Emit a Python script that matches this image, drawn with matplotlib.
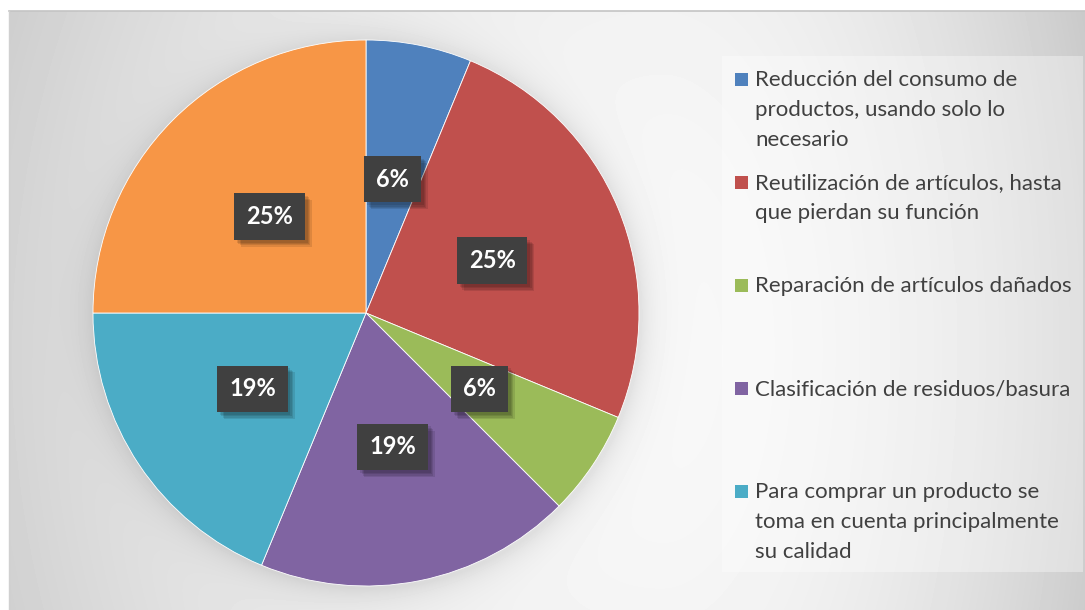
import numpy as np
import matplotlib
matplotlib.use("Agg")
import matplotlib.pyplot as plt
from matplotlib.patches import Rectangle
import matplotlib.patheffects as pe

# ---- data ----
categories = [
    "Reducción del consumo de\nproductos, usando solo lo\nnecesario",
    "Reutilización de artículos, hasta\nque pierdan su función",
    "Reparación de artículos dañados",
    "Clasificación de residuos/basura",
    "Para comprar un producto se\ntoma en cuenta principalmente\nsu calidad",
    "Otro",  # sixth slice, its legend entry is cut off in the reference
]
values = [6.25, 25, 6.25, 18.75, 18.75, 25]
colors = ["#4F81BD", "#C0504D", "#9BBB59", "#8064A2", "#4BACC6", "#F79646"]
legend_shown = 5

W, H = 1085, 610
fig = plt.figure(figsize=(W / 100, H / 100), dpi=100)
fig.patch.set_facecolor("white")

# ---- background gradient (chart area) ----
x0, y0 = 9, 11
bg = fig.add_axes([x0 / W, 0, (W - x0) / W, (H - y0) / H])
bg.set_axis_off()
xs = np.arange(x0, W) + 0.5
ys = np.arange(y0, H) + 0.5
X, Y = np.meshgrid(xs, ys)
cx, cy = 660.0, 350.0
rx = np.where(X < cx, 650.0, 400.0)
val = 248 - 36 * ((X - cx) / rx) ** 2 - 6 * ((Y - cy) / 340.0) ** 2
# soft shadow around the pie
pcx, pcy, pr = 366.0, 313.0, 273.0
rr = np.hypot(X - pcx - 2, Y - pcy - 3)
val -= 22 * np.exp(-np.clip(rr - pr, 0, None) / 15.0)
val = np.clip(val, 190, 250) / 255.0
bg.imshow(val, cmap="gray", vmin=0, vmax=1, extent=[x0, W, H, y0],
          aspect="auto", interpolation="bilinear")
bg.set_xlim(x0, W)
bg.set_ylim(H, y0)

# overlay for frame and legend (pixel coordinates)
ov = fig.add_axes([0, 0, 1, 1])
ov.set_xlim(0, W)
ov.set_ylim(H, 0)
ov.set_axis_off()
ov.patch.set_alpha(0)
ov.plot([x0, W], [y0, y0], color="#c4c4c4", lw=1.2)
ov.plot([x0, x0], [y0, H], color="#d0d0d0", lw=1.0)

# legend box
ov.add_patch(Rectangle((722, 56), 361, 516, facecolor="white", alpha=0.35,
                       edgecolor="none"))

# ---- pie ----
R = 273
ax = fig.add_axes([(pcx - R) / W, (H - pcy - R) / H, 2 * R / W, 2 * R / H])
ax.set_axis_off()
wedges, texts, autotexts = ax.pie(
    values, colors=colors, startangle=90, counterclock=False,
    autopct="%.0f%%", pctdistance=0.5, radius=1.0,
    wedgeprops=dict(edgecolor="white", linewidth=0.6),
)
ax.set_xlim(-1, 1)
ax.set_ylim(-1, 1)
ax.set_aspect("equal")
shadow = [pe.SimplePatchShadow(offset=(o, -o), shadow_rgbFace="black", alpha=0.10)
          for o in (5, 4, 3, 2)]
for t in autotexts:
    t.set_fontfamily("Lato")
    t.set_fontweight("bold")
    t.set_fontsize(17)
    t.set_color("white")
    t.set_bbox(dict(boxstyle="square,pad=0.5", facecolor="#404040",
                    edgecolor="none"))
    t.get_bbox_patch().set_path_effects(shadow + [pe.Normal()])

# ---- legend ----
step = 103.0
first = 79.5
for i in range(legend_shown):
    yc = first + i * step
    ov.add_patch(Rectangle((735, yc - 6.5), 13, 13, facecolor=colors[i],
                           edgecolor="none"))
    ov.text(755, yc - 9.5, categories[i], fontfamily="Lato", fontsize=16,
            color="#404040", va="top", ha="left", linespacing=1.62)

fig.savefig("out.png", dpi=100)
